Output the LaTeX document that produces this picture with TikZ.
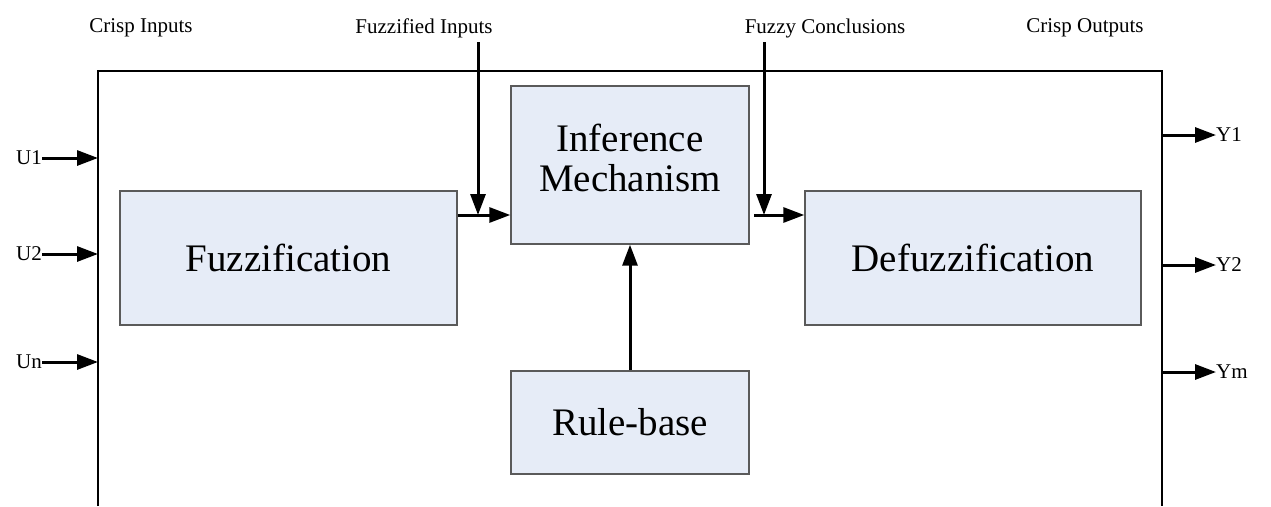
\documentclass[tikz,border=0pt]{standalone}
\usepackage{fontspec}
\setmainfont{Liberation Serif}
\usetikzlibrary{arrows.meta}
\definecolor{boxfill}{HTML}{E6ECF7}
\definecolor{boxline}{HTML}{5A5A5A}
\begin{document}
\begin{tikzpicture}[x=1pt,y=-1pt,
  block/.style={draw=boxline,line width=1.4pt,fill=boxfill,inner sep=0pt,
    font=\fontsize{39}{42}\selectfont,align=center},
  lbl/.style={font=\fontsize{21}{24}\selectfont,inner sep=0pt},
  flow/.style={line width=3pt,-{Triangle[length=21pt,width=15pt]}}]
\useasboundingbox (0,0) rectangle (1271,506);
% open-bottomed system frame
\draw[line width=1.1pt] (98,506) -- (98,71) -- (1162,71) -- (1162,506);
% processing blocks
\node[block,minimum width=337pt,minimum height=134pt] (fz) at (288.5,258) {Fuzzification};
\node[block,minimum width=238pt,minimum height=158pt] (inf) at (630,165) {};
\node[font=\fontsize{39}{40}\selectfont,align=center,inner sep=0pt] (inftxt) at (630,158) {Inference\\Mechanism};
\node[block,minimum width=336pt,minimum height=134pt] (dfz) at (973,258) {Defuzzification};
\node[block,minimum width=238pt,minimum height=103pt] (rb) at (630,422.5) {Rule-base};
% column headings
\node[lbl] (hci) at (141,28) {Crisp Inputs};
\node[lbl] (hfi) at (424,28) {Fuzzified Inputs};
\node[lbl] (hfc) at (825,28) {Fuzzy Conclusions};
\node[lbl] (hco) at (1085,28) {Crisp Outputs};
% crisp inputs
\node[lbl,anchor=east] (u1) at (42,158) {U1};
\node[lbl,anchor=east] (u2) at (42,254) {U2};
\node[lbl,anchor=east] (un) at (42,362) {Un};
\coordinate (f1) at (98,158);
\coordinate (f2) at (98,254);
\coordinate (f3) at (98,362);
\draw[flow] (u1.east) -- (f1);
\draw[flow] (u2.east) -- (f2);
\draw[flow] (un.east) -- (f3);
% crisp outputs
\node[lbl,anchor=west] (y1) at (1216,135) {Y1};
\node[lbl,anchor=west] (y2) at (1216,265) {Y2};
\node[lbl,anchor=west] (ym) at (1216,372) {Ym};
\coordinate (g1) at (1162,135);
\coordinate (g2) at (1162,265);
\coordinate (g3) at (1162,372);
\draw[flow] (g1) -- (y1.west);
\draw[flow] (g2) -- (y2.west);
\draw[flow] (g3) -- (ym.west);
% fuzzified inputs
\coordinate (fiTop) at (478,42);
\coordinate (fiJoin) at (478,215);
\draw[flow] (fiTop) -- (fiJoin);
\draw[flow] (fz.east |- fiJoin) -- (inf.west |- fiJoin);
% fuzzy conclusions
\coordinate (fcTop) at (764,42);
\coordinate (fcJoin) at (764,215);
\coordinate (fcStart) at (754,215);
\draw[flow] (fcTop) -- (fcJoin);
\draw[flow] (fcStart) -- (dfz.west |- fcJoin);
% rule-base feeds inference
\draw[flow] (rb.north) -- (inf.south);
\end{tikzpicture}
\end{document}
